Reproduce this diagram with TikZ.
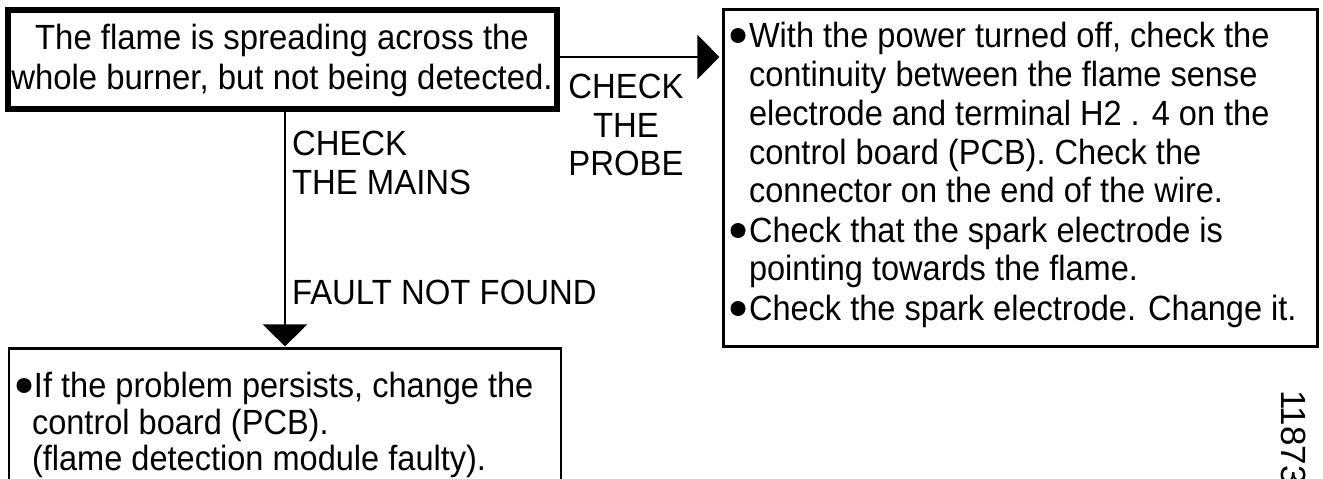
\documentclass[tikz,border=0pt]{standalone}
\usepackage{fontspec}
\setmainfont{Liberation Sans}
\usetikzlibrary{arrows.meta}
\begin{document}
\begin{tikzpicture}[x=1pt,y=-1pt,
  txt/.style={inner sep=0pt, outer sep=0pt, font=\fontsize{35}{39}\selectfont, text=black},
  box/.style={draw=black, inner sep=0pt, outer sep=0pt, anchor=north west, line width=2.8pt},
  conn/.style={draw=black, line width=2.8pt, -{Triangle[length=22pt,width=44pt]}},
  dot/.style={fill=black}]
\useasboundingbox (0,0) rectangle (1323,479);
\clip (0,0) rectangle (1323,479);
\newcommand\cz[1]{\scalebox{0.94}[1]{#1}}
\newcommand\czb[1]{\scalebox{0.93}[1]{#1}}
% boxes
\node[box, line width=6pt, minimum width=549pt, minimum height=99pt] (top) at (8,10) {};
\node[box, minimum width=594pt, minimum height=337pt] (probe) at (723.4,9.4) {};
\node[box, minimum width=552pt, minimum height=180pt] (pcb) at (9,348.4) {};
% top text
\node[txt, anchor=base] (t1) at (282,49) {\cz{The flame is spreading across the}};
\node[txt, anchor=base] (t2) at (282,89) {\cz{whole burner, but not being detected.}};
% connectors
\coordinate (vm) at (285,0);
\coordinate (hm) at (0,57);
\draw[conn, shorten >=4pt] (top.east |- hm) -- (probe.west |- hm);
\draw[conn, shorten >=2pt] (top.south -| vm) -- (pcb.north -| vm);
% connector labels
\node[txt, anchor=base] (cp1) at (626,98) {\cz{CHECK}};
\node[txt, anchor=base] (cp2) at (626,137) {\cz{THE}};
\node[txt, anchor=base] (cp3) at (626,175) {\cz{PROBE}};
\node[txt, anchor=base west] (cm1) at (292,155) {\cz{CHECK}};
\node[txt, anchor=base west] (cm2) at (292,194) {\cz{THE MAINS}};
\node[txt, anchor=base west] (fnf) at (292,304) {\cz{FAULT NOT FOUND}};
% probe text
\node[txt, anchor=base west] (p1) at (749,47) {\czb{With the power turned off, check the}};
\node[txt, anchor=base west] (p2) at (749,86) {\czb{continuity between the flame sense}};
\node[txt, anchor=base west] (p3) at (749,125) {\czb{electrode and terminal H2 . 4 on the}};
\node[txt, anchor=base west] (p4) at (749,164) {\czb{control board (PCB). Check the}};
\node[txt, anchor=base west] (p5) at (749,202) {\czb{connector on the end of the wire.}};
\node[txt, anchor=base west] (p6) at (749,242) {\czb{Check that the spark electrode is}};
\node[txt, anchor=base west] (p7) at (749,280) {\czb{pointing towards the flame.}};
\node[txt, anchor=base west] (p8) at (749,320) {\czb{Check the spark electrode. Change it.}};
\fill[dot] (738,35.5) circle (7.5);
\fill[dot] (738,230.5) circle (7.5);
\fill[dot] (738,308.5) circle (7.5);
% pcb text
\node[txt, anchor=base west] (b1) at (34,397) {\czb{If the problem persists, change the}};
\node[txt, anchor=base west] (b2) at (32,434) {\czb{control board (PCB).}};
\node[txt, anchor=base west] (b3) at (32,470) {\czb{(flame detection module faulty).}};
\fill[dot] (24,385.5) circle (7.5);
% reference number
\node[txt, anchor=base west, rotate=-90] (ref) at (1281,390) {11873};
\end{tikzpicture}
\end{document}
